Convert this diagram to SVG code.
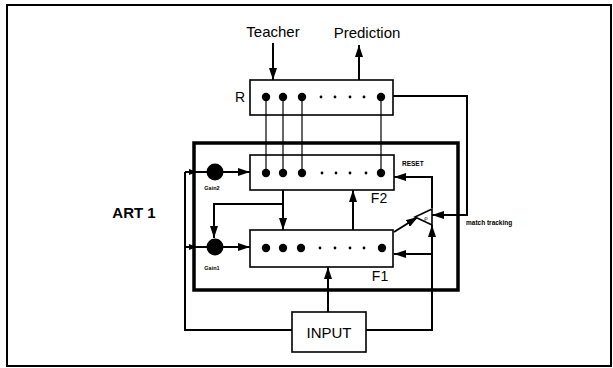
<svg xmlns="http://www.w3.org/2000/svg" width="613" height="368" viewBox="0 0 613 368">
<style>
.box{fill:#fff;stroke:#000;stroke-width:1.6}
.c{fill:none;stroke:#000;stroke-width:2}
.thin{fill:none;stroke:#000;stroke-width:1.2}
.t{font-family:"Liberation Sans",Arial,sans-serif;fill:#000}
.big{r:4.2}
.sm{r:1.4}
</style>
<defs>
<marker id="ah" viewBox="0 0 12 8" refX="12" refY="4" markerWidth="12" markerHeight="8" markerUnits="userSpaceOnUse" orient="auto"><path d="M0,0 L12,4 L0,8 z" fill="#000"/></marker>
<marker id="ahs" viewBox="0 0 8 6" refX="8" refY="3" markerWidth="8" markerHeight="6" markerUnits="userSpaceOnUse" orient="auto"><path d="M0,0 L8,3 L0,6 z" fill="#000"/></marker>
</defs>
<rect width="613" height="368" fill="#fff"/>
<rect x="7" y="5" width="604" height="361" fill="none" stroke="#000" stroke-width="2"/>

<g id="art1">
<rect x="194" y="143" width="264" height="147" fill="none" stroke="#000" stroke-width="3.5"/>
<text class="t" x="134" y="218" font-size="15" font-weight="bold" text-anchor="middle">ART 1</text>
</g>

<g id="connectors">
<line class="c" x1="273" y1="43" x2="273" y2="80" marker-end="url(#ah)"/>
<line class="c" x1="359" y1="80" x2="359" y2="45" marker-end="url(#ah)"/>
<line class="thin" x1="266" y1="97" x2="266" y2="173"/>
<line class="thin" x1="283" y1="97" x2="283" y2="173"/>
<line class="thin" x1="302" y1="97" x2="302" y2="173"/>
<line class="thin" x1="381" y1="97" x2="381" y2="173"/>
<path class="c" d="M393,96 H467 V215 H432" marker-end="url(#ah)"/>
<path class="c" d="M432,208 V177 H394" marker-end="url(#ah)"/>
<path class="c" d="M366,330 H432 V225" marker-end="url(#ah)"/>
<path class="c" d="M432,254 H394" marker-end="url(#ah)"/>
<path class="c" d="M394,232 L418,217" marker-end="url(#ah)"/>
<path class="c" d="M328,312 V267" marker-end="url(#ah)"/>
<path class="c" d="M292,330 H185 V172"/>
<path class="c" d="M185,172 H197" marker-end="url(#ahs)"/>
<path class="c" d="M196,172 H207"/>
<path class="c" d="M185,247 H197" marker-end="url(#ahs)"/>
<path class="c" d="M196,247 H207"/>
<path class="c" d="M223,172 H250" marker-end="url(#ah)"/>
<path class="c" d="M223,247 H250" marker-end="url(#ah)"/>
<path class="c" d="M283,190 V230" marker-end="url(#ah)"/>
<path class="c" d="M283,204 H214 V238" marker-end="url(#ah)"/>
<path class="c" d="M353,230 V190" marker-end="url(#ah)"/>
</g>

<g id="teacher"><text class="t" x="273" y="37" font-size="15" text-anchor="middle">Teacher</text></g>
<g id="prediction"><text class="t" x="367" y="38" font-size="15" text-anchor="middle">Prediction</text></g>

<g id="R">
<rect class="box" x="250" y="80" width="143" height="35"/>
<text class="t" x="240" y="102" font-size="14" text-anchor="middle">R</text>
<circle cx="266" cy="97" r="4.2"/><circle cx="283" cy="97" r="4.2"/><circle cx="302" cy="97" r="4.2"/>
<circle cx="321" cy="97" r="1.4"/><circle cx="335" cy="97" r="1.4"/><circle cx="350" cy="97" r="1.4"/><circle cx="364" cy="97" r="1.4"/>
<circle cx="381" cy="97" r="4.2"/>
<line class="thin" x1="266" y1="97" x2="266" y2="115"/>
<line class="thin" x1="283" y1="97" x2="283" y2="115"/>
<line class="thin" x1="302" y1="97" x2="302" y2="115"/>
<line class="thin" x1="381" y1="97" x2="381" y2="115"/>
</g>

<g id="F2">
<rect class="box" x="250" y="155" width="144" height="35"/>
<line class="thin" x1="266" y1="155" x2="266" y2="173"/>
<line class="thin" x1="283" y1="155" x2="283" y2="173"/>
<line class="thin" x1="302" y1="155" x2="302" y2="173"/>
<line class="thin" x1="381" y1="155" x2="381" y2="173"/>
<circle cx="266" cy="173" r="4.2"/><circle cx="283" cy="173" r="4.2"/><circle cx="302" cy="173" r="4.2"/>
<circle cx="322" cy="173" r="1.4"/><circle cx="336" cy="173" r="1.4"/><circle cx="350" cy="173" r="1.4"/><circle cx="366" cy="173" r="1.4"/>
<circle cx="381" cy="173" r="4.2"/>
<text class="t" x="379" y="203" font-size="14" text-anchor="middle">F2</text>
<text class="t" x="402" y="166" font-size="6.5" font-weight="bold">RESET</text>
</g>

<g id="F1">
<rect class="box" x="250" y="230" width="143" height="37"/>
<circle cx="266" cy="248" r="4.2"/><circle cx="283" cy="248" r="4.2"/><circle cx="301" cy="248" r="4.2"/>
<circle cx="320" cy="248" r="1.4"/><circle cx="335" cy="248" r="1.4"/><circle cx="350" cy="248" r="1.4"/><circle cx="364" cy="248" r="1.4"/>
<circle cx="382" cy="248" r="4.2"/>
<text class="t" x="380" y="281" font-size="14" text-anchor="middle">F1</text>
</g>

<g id="gain2">
<circle cx="215" cy="172" r="8.5"/>
<text class="t" x="212" y="190" font-size="5.5" font-weight="bold" text-anchor="middle">Gain2</text>
</g>
<g id="gain1">
<circle cx="215" cy="247" r="8.5"/>
<text class="t" x="212" y="270" font-size="5.5" font-weight="bold" text-anchor="middle">Gain1</text>
</g>

<g id="rho">
<path d="M415,217 L432,209 L432,225 z" fill="#fff" stroke="#000" stroke-width="1.6"/>
<text class="t" x="426" y="219.5" font-size="6" text-anchor="middle">ρ</text>
<text class="t" x="466" y="225" font-size="6.5" font-weight="bold">match tracking</text>
</g>

<g id="input">
<rect class="box" x="292" y="312" width="74" height="40"/>
<text class="t" x="329" y="338" font-size="15" text-anchor="middle">INPUT</text>
</g>
</svg>
